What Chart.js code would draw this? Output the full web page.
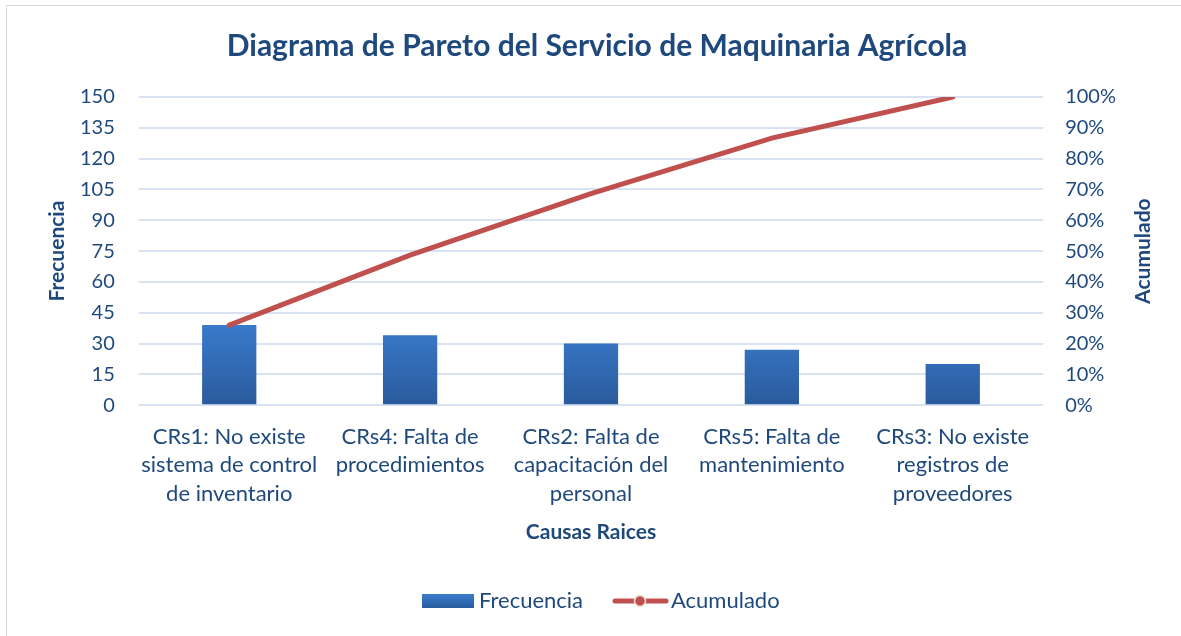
<!DOCTYPE html>
<html>
<head>
<meta charset="utf-8">
<script src="https://cdn.jsdelivr.net/npm/chart.js@4"></script>
<style>
  html, body { margin: 0; padding: 0; background: #fff; }
  #wrap { position: absolute; left: 6px; top: 5px; width: 1180px; height: 640px; border: 1px solid #d6dce5; border-right: none; border-bottom: none; }
  #chart { position: absolute; left: 0; top: 0; }
</style>
</head>
<body>
<div id="wrap"></div>
<canvas id="chart" width="1181" height="636"></canvas>
<script>
const categories = [
  ["CRs1: No existe", "sistema de control", "de inventario"],
  ["CRs4: Falta de", "procedimientos"],
  ["CRs2: Falta de", "capacitación del", "personal"],
  ["CRs5: Falta de", "mantenimiento"],
  ["CRs3: No existe", "registros de", "proveedores"]
];
const frecuencia = [39, 34, 30, 27, 20];
const acumulado = [0.26, 0.4867, 0.6867, 0.8667, 1.0];

const textColor = '#1f497d';
const gridColor = '#d9e2f3';
const lineColor = '#c0504d';

// draws the rotated axis titles and the legend the way the original has them
const extras = {
  id: 'extras',
  afterDraw(chart) {
    const c = chart.ctx;
    const area = chart.chartArea;
    const midY = (area.top + area.bottom) / 2;
    c.save();
    c.fillStyle = textColor;
    c.font = 'bold 21px Lato';
    c.textAlign = 'center';
    c.textBaseline = 'middle';
    [57, 1143].forEach((x, i) => {
      c.save();
      c.translate(x, midY);
      c.rotate(-Math.PI / 2);
      c.fillText(i === 0 ? 'Frecuencia' : 'Acumulado', 0, 0);
      c.restore();
    });

    // legend
    const ly = 601;
    const grad = c.createLinearGradient(0, ly - 7, 0, ly + 7);
    grad.addColorStop(0, '#3b7dd0');
    grad.addColorStop(1, '#2a5b9c');
    c.fillStyle = grad;
    c.fillRect(422, ly - 7, 52, 14);
    c.fillStyle = textColor;
    c.font = '22px Lato';
    c.textAlign = 'left';
    c.fillText(chart.data.datasets[1].label, 479, ly);

    c.strokeStyle = lineColor;
    c.lineWidth = 5;
    c.lineCap = 'round';
    c.beginPath(); c.moveTo(615, ly); c.lineTo(666, ly); c.stroke();
    c.fillStyle = lineColor;
    c.strokeStyle = '#e8e2d8';
    c.lineWidth = 1.5;
    c.beginPath(); c.arc(640, ly, 5.5, 0, Math.PI * 2); c.fill(); c.stroke();
    c.fillStyle = textColor;
    c.fillText(chart.data.datasets[0].label, 671, ly);
    c.restore();
  }
};

const ctx = document.getElementById('chart').getContext('2d');
const chart = new Chart(ctx, {
  data: {
    labels: categories,
    datasets: [
      {
        type: 'line',
        label: 'Acumulado',
        data: acumulado,
        yAxisID: 'y1',
        borderColor: lineColor,
        borderWidth: 5,
        pointRadius: 0,
        borderCapStyle: 'round',
        tension: 0,
        order: 1
      },
      {
        type: 'bar',
        label: 'Frecuencia',
        data: frecuencia,
        yAxisID: 'y',
        backgroundColor: function(context) {
          const area = context.chart.chartArea;
          if (!area) return '#3370bc';
          const grad = context.chart.ctx.createLinearGradient(0, area.top + 220, 0, area.bottom);
          grad.addColorStop(0, '#3b7dd0');
          grad.addColorStop(1, '#2a5b9c');
          return grad;
        },
        categoryPercentage: 0.3,
        barPercentage: 1,
        order: 2
      }
    ]
  },
  options: {
    responsive: false,
    animation: false,
    layout: { padding: { left: 56, right: 43, top: 0, bottom: 93 } },
    plugins: {
      title: {
        display: true,
        text: 'Diagrama de Pareto del Servicio de Maquinaria Agrícola',
        color: textColor,
        font: { family: 'Lato', size: 30, weight: 'bold' },
        padding: { top: 28, bottom: 33 }
      },
      legend: { display: false },
      tooltip: { enabled: false }
    },
    scales: {
      x: {
        offset: true,
        grid: { display: false },
        border: { display: false },
        ticks: {
          color: textColor,
          font: { family: 'Lato', size: 22, lineHeight: 1.3 },
          maxRotation: 0,
          autoSkip: false,
          padding: 9
        },
        title: {
          display: true,
          text: 'Causas Raices',
          color: textColor,
          font: { family: 'Lato', size: 21, weight: 'bold', lineHeight: 1 },
          padding: { top: 5, bottom: 0 }
        }
      },
      y: {
        position: 'left',
        min: 0,
        max: 150,
        ticks: {
          stepSize: 15,
          color: textColor,
          font: { family: 'Lato', size: 20 },
          padding: 24
        },
        grid: { color: gridColor, lineWidth: 2, tickLength: 0 },
        border: { display: false }
      },
      y1: {
        position: 'right',
        min: 0,
        max: 1,
        ticks: {
          stepSize: 0.1,
          color: textColor,
          font: { family: 'Lato', size: 20 },
          padding: 22,
          callback: v => Math.round(v * 100) + '%'
        },
        grid: { drawOnChartArea: false, tickLength: 0 },
        border: { display: false }
      }
    }
  },
  plugins: [extras]
});
</script>
</body>
</html>
